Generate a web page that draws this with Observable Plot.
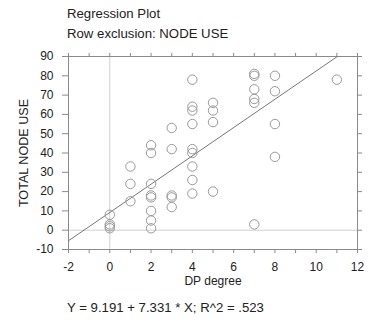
<!DOCTYPE html>
<html>
<head>
<meta charset="utf-8">
<script src="https://cdn.jsdelivr.net/npm/d3@7"></script>
<script src="https://cdn.jsdelivr.net/npm/@observablehq/plot@0.6"></script>
<style>
  html, body { margin: 0; padding: 0; background: #fff; }
  #wrap { position: relative; width: 377px; height: 322px; font-family: "Liberation Sans", Arial, sans-serif; color: #222; font-size: 13.2px; }
  .t { position: absolute; left: 67px; line-height: 15px; white-space: nowrap; }
  #chart { position: absolute; left: 0; top: 0; }
</style>
</head>
<body>
<div id="wrap">
  <div id="chart"></div>
  <div class="t" style="top:6px">Regression Plot</div>
  <div class="t" style="top:26px">Row exclusion: NODE USE</div>
  <div class="t" style="top:300px">Y = 9.191 + 7.331 * X; R^2 = .523</div>
</div>
<script>
// Data (DP degree vs TOTAL NODE USE)
const dpDegree = [0,0,0,0, 1,1,1, 2,2,2,2,2,2,2,2, 3,3,3,3,3, 4,4,4,4,4,4,4,4,4, 5,5,5,5, 7,7,7,7,7,7, 8,8,8,8, 11];
const nodeUse  = [8,3,2,1, 33,24,15, 44,40,24,18,17,10,5,1, 53,42,18,17,12, 78,64,62,55,42,40,33,26,19, 66,62,56,20, 81,80,73,68,66,3, 80,72,55,38, 78];
const intercept = 9.191;
const slope = 7.331;
const xTicks = d3.range(-2, 13, 1);
const yTicks = d3.range(-10, 91, 10);
const xDomain = [-2, 12];
const yDomain = [-10, 90];

const points = dpDegree.map((x, i) => ({x, y: nodeUse[i]}));
// regression line endpoints, clipped to the frame
const xEnd = Math.min(xDomain[1], (yDomain[1] - intercept) / slope);
const fit = [xDomain[0], xEnd].map(x => ({x, y: intercept + slope * x}));

const plot = Plot.plot({
  width: 377,
  height: 322,
  marginLeft: 68,
  marginRight: 20,
  marginTop: 56,
  marginBottom: 73,
  style: {fontFamily: "'Liberation Sans', Arial, sans-serif", fontSize: "12px", color: "#222", background: "transparent", overflow: "visible"},
  x: {domain: xDomain},
  y: {domain: yDomain},
  marks: [
    Plot.ruleX([0], {stroke: "#d0d0d0"}),
    Plot.ruleY([0], {stroke: "#d0d0d0"}),
    Plot.frame({stroke: "#8a8a8a"}),
    Plot.axisX({ticks: xTicks, tickFormat: d => (d % 2 === 0 ? String(d) : ""), tickSize: 4, tickPadding: 9, stroke: "#8a8a8a", label: null}),
    Plot.axisX({anchor: "top", ticks: xTicks, tickFormat: () => "", tickSize: 4, stroke: "#8a8a8a", label: null}),
    Plot.axisY({ticks: yTicks, tickFormat: d => String(d), tickSize: 6, tickPadding: 9, stroke: "#8a8a8a", label: null}),
    Plot.axisY({anchor: "right", ticks: yTicks, tickFormat: () => "", tickSize: 4, stroke: "#8a8a8a", label: null}),
    Plot.text(["DP degree"], {frameAnchor: "bottom", dy: 35, fill: "#222"}),
    Plot.text(["TOTAL NODE USE"], {frameAnchor: "left", dx: -45, rotate: -90, textAnchor: "middle", fontSize: 12.6, fill: "#222"}),
    Plot.line(fit, {x: "x", y: "y", stroke: "#777", strokeWidth: 1}),
    Plot.dot(points, {x: "x", y: "y", r: 4.7, stroke: "#999", fill: "none", strokeWidth: 1})
  ]
});
document.getElementById("chart").appendChild(plot);
</script>
</body>
</html>
